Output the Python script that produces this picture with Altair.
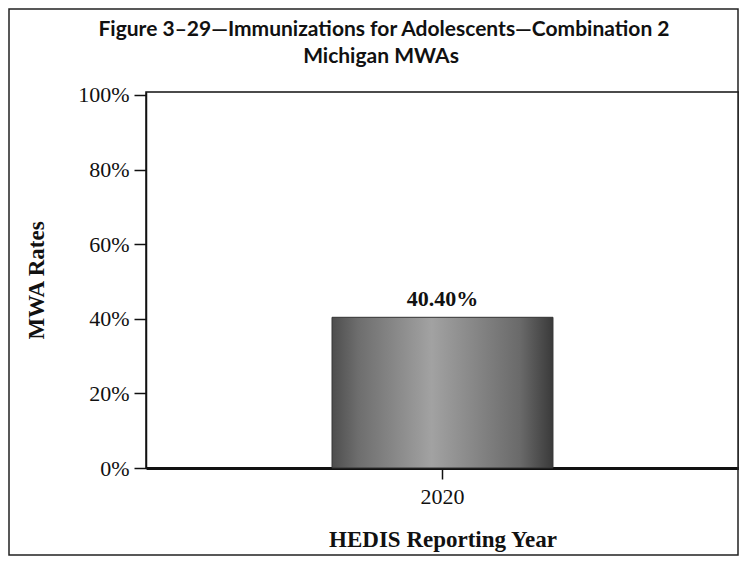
import altair as alt
import pandas as pd

years = ["2020"]
rates = [40.40]
rate_labels = ["40.40%"]
y_ticks = [0, 20, 40, 60, 80, 100]
title_lines = ["Figure 3\u201329\u2014Immunizations for Adolescents\u2014Combination 2", "Michigan MWAs"]

df = pd.DataFrame({"year": years, "rate": rates, "label": rate_labels})

W, H = 593, 376
SERIF = "Liberation Serif"

grad = alt.Gradient(
    gradient="linear", x1=0, y1=0, x2=1, y2=0,
    stops=[
        alt.GradientStop(offset=0.0, color="#4e4e4e"),
        alt.GradientStop(offset=0.12, color="#6e6e6e"),
        alt.GradientStop(offset=0.45, color="#a2a2a2"),
        alt.GradientStop(offset=0.85, color="#6a6a6a"),
        alt.GradientStop(offset=1.0, color="#3a3a3a"),
    ],
)

x_enc = alt.X(
    "year:N",
    scale=alt.Scale(paddingInner=0, paddingOuter=0.842),
    axis=alt.Axis(
        title="HEDIS Reporting Year", labelAngle=0, labelFont=SERIF, labelFontSize=22,
        labelColor="#111", titleFont=SERIF, titleFontSize=23, titleFontWeight="bold",
        titleColor="#111", tickSize=11, tickColor="#111", tickWidth=1.5,
        domainColor="#111", domainWidth=3, labelPadding=7, titlePadding=21,
    ),
)
y_enc = alt.Y(
    "rate:Q",
    scale=alt.Scale(domain=[0, 100.8], nice=False),
    axis=alt.Axis(
        title="MWA Rates", values=y_ticks, labelExpr="datum.value + '%'",
        labelFont=SERIF, labelFontSize=22, labelColor="#111", titleFont=SERIF,
        titleFontSize=23, titleFontWeight="bold", titleColor="#111", tickSize=12,
        tickColor="#111", tickWidth=1.5, domainColor="#111", domainWidth=1.5,
        labelPadding=5, titlePadding=29, grid=False,
    ),
)

bars = alt.Chart(df).mark_bar(color=grad, stroke="#333", strokeWidth=1).encode(x=x_enc, y=y_enc)

text = alt.Chart(df).mark_text(
    font=SERIF, fontSize=22, fontWeight="bold", color="#111", baseline="bottom", dy=-6
).encode(x="year:N", y="rate:Q", text="label:N")

frame = alt.Chart(df).mark_rect(fill=None, stroke="#222", strokeWidth=1.5, clip=False).encode(
    x=alt.value(-137), x2=alt.value(592), y=alt.value(-83), y2=alt.value(463)
)

title1 = alt.Chart(df).mark_text(
    font="Lato", fontSize=21, fontWeight="bold", color="#111", align="center", baseline="alphabetic"
).encode(x=alt.value(238), y=alt.value(-56), text=alt.value(title_lines[0]))
title2 = alt.Chart(df).mark_text(
    font="Lato", fontSize=21, fontWeight="bold", color="#111", align="center", baseline="alphabetic"
).encode(x=alt.value(235), y=alt.value(-29), text=alt.value(title_lines[1]))

chart = alt.layer(bars, text, frame, title1, title2).properties(
    width=W, height=H,
    autosize=alt.AutoSizeParams(type="none"),
    padding={"left": 138, "top": 84, "right": 0, "bottom": 88},
).configure_view(stroke="#111", strokeWidth=1.5)

chart.save("out.html", embed_options={"renderer": "svg", "actions": False})
